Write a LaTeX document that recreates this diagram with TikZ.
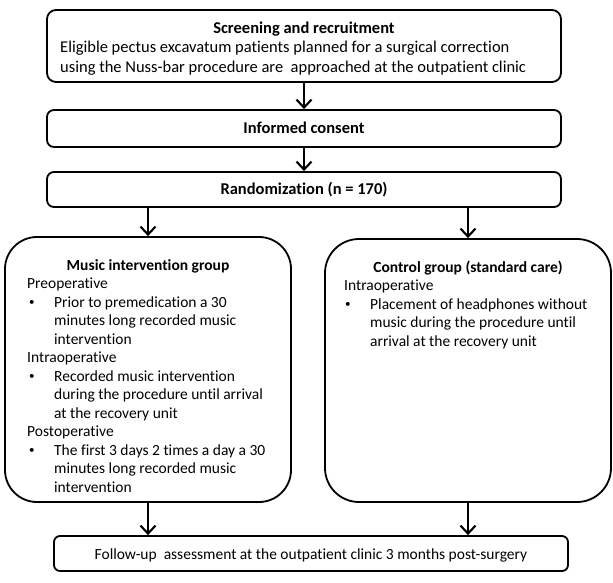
\documentclass[tikz,border=0pt]{standalone}
\usepackage{fontspec}
\setmainfont{Carlito}[Ligatures=NoCommon]
\usetikzlibrary{arrows.meta}
\tikzset{
  box/.style={draw, line width=1.8pt, inner sep=0pt},
  arr/.style={line width=2.1pt, -{Straight Barb[length=8pt,width=15pt,line width=2.1pt]}},
  ln/.style={inner sep=0pt, anchor=base west, font=\fontsize{15.5}{18.5}\selectfont},
  blt/.style={inner sep=0pt, anchor=base west, font=\fontsize{11}{18.5}\selectfont},
  lnc/.style={inner sep=0pt, anchor=base, font=\fontsize{15.5}{18.5}\selectfont},
  ttl/.style={inner sep=0pt, anchor=base, font=\fontsize{15.5}{18.5}\selectfont\bfseries},
  topln/.style={inner sep=0pt, anchor=base west, font=\fontsize{16.5}{20}\selectfont},
}
\begin{document}
\begin{tikzpicture}[x=1pt,y=-1pt]
\useasboundingbox (0,0) rectangle (613,582);
% boxes
\node[box, rounded corners=9pt, minimum width=514pt, minimum height=72pt] (top) at (304,46) {};
\node[box, rounded corners=7pt, minimum width=514pt, minimum height=37pt] (consent) at (304,128.5) {};
\node[box, rounded corners=7pt, minimum width=514pt, minimum height=35pt] (rand) at (304,189.5) {};
\node[box, rounded corners=32pt, minimum width=286pt, minimum height=265pt] (music) at (148,369.5) {};
\node[box, rounded corners=34pt, minimum width=286pt, minimum height=263pt] (control) at (468,370.5) {};
\node[box, rounded corners=6pt, minimum width=514pt, minimum height=35pt] (follow) at (311,553.5) {};
% connectors
\draw[arr] (top.south) -- (consent.north);
\draw[arr] (consent.south) -- (rand.north);
\draw[arr] (rand.south -| music.north) -- (music.north);
\draw[arr] (rand.south -| control.north) -- (control.north);
\draw[arr] (music.south) -- (music.south |- follow.north);
\draw[arr] (control.south) -- (control.south |- follow.north);
% top box text
\node[ttl, font=\fontsize{16.5}{20}\selectfont\bfseries] (t0) at (304,33) {Screening and recruitment};
\node[topln] (t1) at (60,52.5) {Eligible pectus excavatum patients planned for a surgical correction};
\node[topln] (t2) at (60,72.5) {using the Nuss-bar procedure are\ \ approached at the outpatient clinic};
\node[ttl, font=\fontsize{16.5}{20}\selectfont\bfseries] (c0) at (304,133.5) {Informed consent};
\node[ttl, font=\fontsize{16.5}{20}\selectfont\bfseries] (r0) at (304,194.5) {Randomization (n = 170)};
% music group
\node[ttl] (m0) at (148,270.5) {Music intervention group};
\node[ln] (m1) at (27,288.5) {Preoperative};
\node[blt] (m2b) at (29,305.5) {\textbullet};
\node[ln] (m2) at (54,307) {Prior to premedication a 30};
\node[ln] (m3) at (54,325.5) {minutes long recorded music};
\node[ln] (m4) at (54,344) {intervention};
\node[ln] (m5) at (27,362.5) {Intraoperative};
\node[blt] (m6b) at (29,379.5) {\textbullet};
\node[ln] (m6) at (54,381) {Recorded music intervention};
\node[ln] (m7) at (54,399.5) {during the procedure until arrival};
\node[ln] (m8) at (54,418) {at the recovery unit};
\node[ln] (m9) at (27,436.5) {Postoperative};
\node[blt] (m10b) at (29,453.5) {\textbullet};
\node[ln] (m10) at (54,455) {The first 3 days 2 times a day a 30};
\node[ln] (m11) at (54,473.5) {minutes long recorded music};
\node[ln] (m12) at (54,492) {intervention};
% control group
\node[ttl] (k0) at (468,272.5) {Control group (standard care)};
\node[ln] (k1) at (344,290.5) {Intraoperative};
\node[blt] (k2b) at (345,307.5) {\textbullet};
\node[ln] (k2) at (370,309) {Placement of headphones without};
\node[ln] (k3) at (370,327.5) {music during the procedure until};
\node[ln] (k4) at (370,346) {arrival at the recovery unit};
% follow-up
\node[lnc] (f0) at (311,559.5) {Follow-up\ \ assessment at the outpatient clinic 3 months post-surgery};
\end{tikzpicture}
\end{document}
